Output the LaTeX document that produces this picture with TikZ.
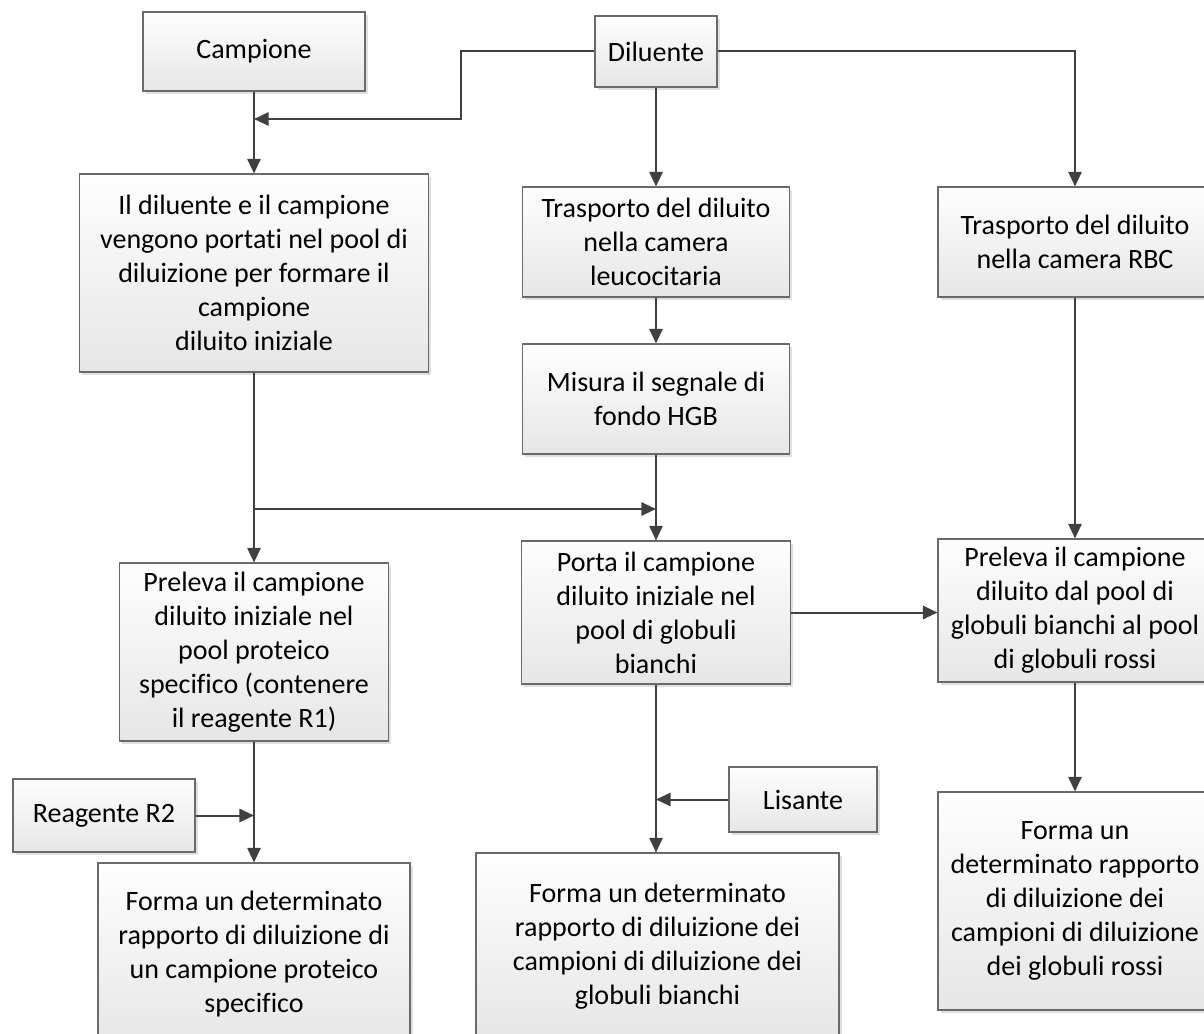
\documentclass[tikz,border=0pt]{standalone}
\usepackage{fontspec}
\setmainfont{Carlito}[Ligatures=NoCommon]
\usetikzlibrary{arrows.meta,shadows}

\definecolor{boxline}{HTML}{6A6A6A}
\definecolor{boxtop}{HTML}{FEFEFE}
\definecolor{boxbot}{HTML}{E6E6E6}
\definecolor{wire}{HTML}{404040}

\tikzset{
  box/.style={draw=boxline, line width=0.8pt, top color=boxtop, bottom color=boxbot,
    drop shadow={shadow xshift=2.2pt, shadow yshift=-2.2pt, fill=black, opacity=0.12},
    align=center, inner sep=0pt, text=black,
    font=\fontsize{21}{25.5}\selectfont},
  wh/.style 2 args={minimum width=#1, minimum height=#2},
  conn/.style={draw=wire, line width=1.5pt},
  arr/.style={conn, -{Triangle[length=11pt, width=10pt]}}
}

\begin{document}
\begin{tikzpicture}[x=0.75pt, y=-0.75pt]
  \clip (0,0) rectangle (1204,1034);
  \fill[white] (0,0) rectangle (1204,1034);

  % top row: inputs
  \node[box, wh={166.5pt}{59.25pt}] (cam) at (254,51.5) {Campione};
  \node[box, wh={91.5pt}{53.25pt}]  (dil) at (656,51.5) {Diluente};

  % first stage
  \node[box, wh={261.75pt}{148.5pt}] (mix) at (254,273)
    {Il diluente e il campione\\vengono portati nel pool di\\diluizione per formare il\\campione\\diluito iniziale};
  \node[box, wh={200.25pt}{82.5pt}] (wbcch) at (656,242)
    {Trasporto del diluito\\nella camera\\leucocitaria};
  \node[box, wh={205.5pt}{82.5pt}] (rbcch) at (1075,242)
    {Trasporto del diluito\\nella camera RBC};
  \node[box, wh={200.25pt}{82.5pt}] (hgb) at (656,399)
    {Misura il segnale di\\fondo HGB};

  % second stage
  \node[box, wh={201.75pt}{133.5pt}] (prot) at (254,652)
    {Preleva il campione\\diluito iniziale nel\\pool proteico\\specifico (contenere\\il reagente R1)};
  \node[box, wh={201.75pt}{107.25pt}] (wbcpool) at (656,612.5)
    {Porta il campione\\diluito iniziale nel\\pool di globuli\\bianchi};
  \node[box, wh={205.5pt}{107.25pt}] (rbcpool) at (1075,610.5)
    {Preleva il campione\\diluito dal pool di\\globuli bianchi al pool\\di globuli rossi};

  % reagents
  \node[box, wh={136.5pt}{54.75pt}] (rtwo) at (104,815.5) {Reagente R2};
  \node[box, wh={111pt}{48.75pt}]   (lys)  at (803,799.5) {Lisante};

  % results
  \node[box, wh={234pt}{136.5pt}] (resprot) at (254,954)
    {Forma un determinato\\rapporto di diluizione di\\un campione proteico\\specifico};
  \node[box, wh={272.25pt}{140.25pt}] (reswbc) at (657.5,946.5)
    {Forma un determinato\\rapporto di diluizione dei\\campioni di diluizione dei\\globuli bianchi};
  \node[box, wh={205.5pt}{163.5pt}] (resrbc) at (1075,901)
    {Forma un\\determinato rapporto\\di diluizione dei\\campioni di diluizione\\dei globuli rossi};

  % junction points
  \coordinate (dilbend) at (461,119);
  \coordinate (dilin)   at (254,119);
  \coordinate (split)   at (254,509);

  % connectors
  \draw[arr] (cam.south) -- (mix.north);
  \draw[arr] (dil.west) -| (dilbend) -- (dilin);
  \draw[arr] (dil.south) -- (wbcch.north);
  \draw[arr] (dil.east) -| (rbcch.north);
  \draw[arr] (wbcch.south) -- (hgb.north);
  \draw[arr] (mix.south) -- (prot.north);
  \draw[arr] (split) -- (split -| hgb.south);
  \draw[arr] (hgb.south) -- (wbcpool.north);
  \draw[arr] (wbcpool.east) -- (wbcpool.east -| rbcpool.west);
  \draw[arr] (rbcch.south) -- (rbcpool.north);
  \draw[arr] (rbcpool.south) -- (resrbc.north);
  \draw[arr] (prot.south) -- (prot.south |- resprot.north);
  \draw[arr] (rtwo.east) -- (rtwo.east -| prot.south);
  \draw[arr] (wbcpool.south) -- (wbcpool.south |- reswbc.north);
  \draw[arr] (lys.west) -- (lys.west -| wbcpool.south);
\end{tikzpicture}
\end{document}
